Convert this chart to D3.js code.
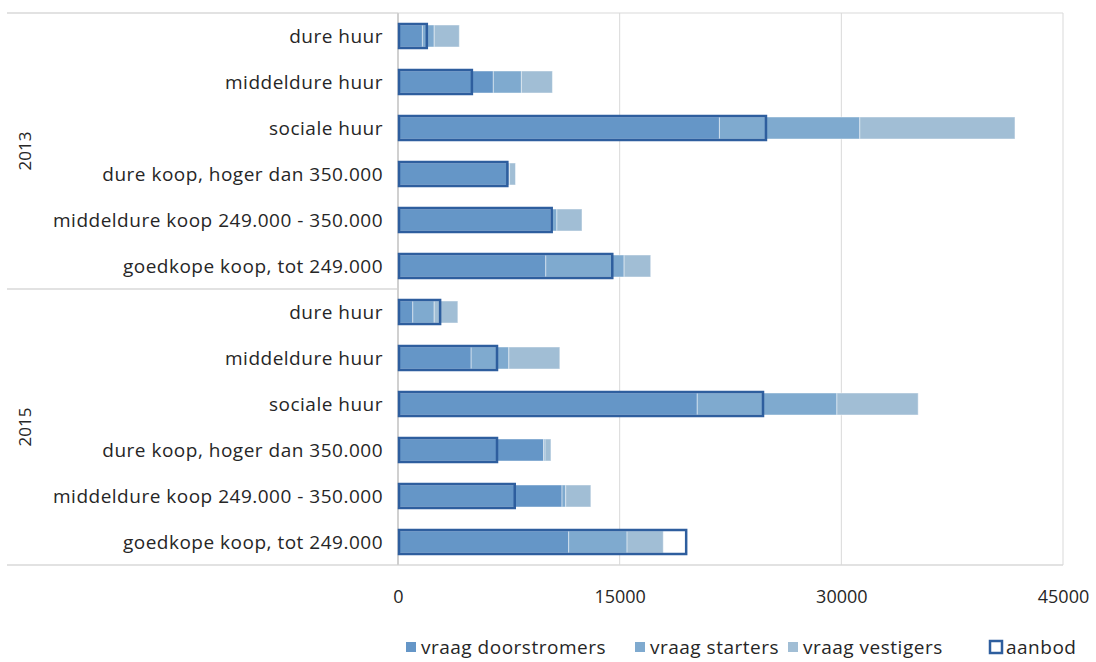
<!DOCTYPE html>
<html>
<head>
<meta charset="utf-8">
<script src="https://cdn.jsdelivr.net/npm/d3@7"></script>
<style>
  body { margin: 0; background: #fff; }
  text { font-family: 'Open Sans', sans-serif; fill: #262626; }
</style>
</head>
<body>
<svg></svg>
<script>
const WIDTH = 1096;
const HEIGHT = 662;
const PLOT = { left: 398, right: 1063, top: 13, bottom: 565 };

const years = ['2013', '2015'];
const categories = [
  'dure huur',
  'middeldure huur',
  'sociale huur',
  'dure koop, hoger dan 350.000',
  'middeldure koop 249.000 - 350.000',
  'goedkope koop, tot 249.000'
];
// per year: 6 categories 2013, then 6 categories 2015
const doorstromers = [1650, 6450, 21750, 7450, 10350, 10000, 1000, 4950, 20250, 9850, 11100, 11550];
const starters = [800, 1900, 9500, 100, 400, 5300, 1450, 2550, 9450, 100, 250, 3950];
const vestigers = [1700, 2100, 10500, 400, 1700, 1800, 1600, 3450, 5500, 400, 1700, 2450];
const aanbod = [1950, 5000, 24900, 7400, 10400, 14500, 2850, 6700, 24700, 6700, 7900, 19500];
const xTicks = [0, 15000, 30000, 45000];

const seriesNames = ['vraag doorstromers', 'vraag starters', 'vraag vestigers'];
const COLORS = ['#6596c7', '#7faacf', '#a1bed5'];
const AANBOD_COLOR = '#2e5e9e';

const rows = [];
years.forEach((year, yi) => {
  categories.forEach((cat, ci) => {
    const i = yi * categories.length + ci;
    rows.push({
      key: year + '|' + cat,
      year: year,
      cat: cat,
      d: doorstromers[i],
      s: starters[i],
      v: vestigers[i],
      a: aanbod[i]
    });
  });
});

const svg = d3.select('svg').attr('width', WIDTH).attr('height', HEIGHT);

const x = d3.scaleLinear().domain([0, 45000]).range([PLOT.left, PLOT.right]);
const y = d3
  .scaleBand()
  .domain(rows.map((r) => r.key))
  .range([PLOT.top, PLOT.bottom]);

// gridlines + plot border
svg
  .append('g')
  .selectAll('line')
  .data(xTicks.slice(1))
  .enter()
  .append('line')
  .attr('x1', (d) => x(d))
  .attr('x2', (d) => x(d))
  .attr('y1', PLOT.top)
  .attr('y2', PLOT.bottom)
  .attr('stroke', '#d9d9d9')
  .attr('stroke-width', 1);

svg
  .append('line')
  .attr('x1', PLOT.left).attr('x2', PLOT.right)
  .attr('y1', PLOT.top).attr('y2', PLOT.top)
  .attr('stroke', '#d9d9d9');
svg
  .append('line')
  .attr('x1', PLOT.left).attr('x2', PLOT.right)
  .attr('y1', PLOT.bottom).attr('y2', PLOT.bottom)
  .attr('stroke', '#d9d9d9').attr('stroke-width', 1.5);

// category axis: group separators
const groupLines = [PLOT.top, y(rows[categories.length].key), PLOT.bottom];
svg
  .append('g')
  .selectAll('line')
  .data(groupLines)
  .enter()
  .append('line')
  .attr('x1', 7)
  .attr('x2', PLOT.left)
  .attr('y1', (d) => d)
  .attr('y2', (d) => d)
  .attr('stroke', '#d9d9d9')
  .attr('stroke-width', 1.5);

svg
  .append('line')
  .attr('x1', PLOT.left).attr('x2', PLOT.left)
  .attr('y1', PLOT.top).attr('y2', PLOT.bottom)
  .attr('stroke', '#d0d0d0').attr('stroke-width', 2);

// stacked demand bars
const stack = d3.stack().keys(['d', 's', 'v']);
const stacked = stack(rows);
const barH = 22;

svg
  .append('g')
  .selectAll('g')
  .data(stacked)
  .enter()
  .append('g')
  .attr('fill', (d, i) => COLORS[i])
  .selectAll('rect')
  .data((d) => d)
  .enter()
  .append('rect')
  .attr('x', (d) => x(d[0]))
  .attr('y', (d) => y(d.data.key) + y.bandwidth() / 2 - barH / 2)
  .attr('width', (d) => x(d[1]) - x(d[0]))
  .attr('height', barH)
  .attr('stroke', 'rgba(255,255,255,0.45)')
  .attr('stroke-width', 1);

// aanbod outline bars
const boxH = 24;
svg
  .append('g')
  .selectAll('rect')
  .data(rows)
  .enter()
  .append('rect')
  .attr('x', x(0) + 1)
  .attr('y', (d) => y(d.key) + y.bandwidth() / 2 - boxH / 2)
  .attr('width', (d) => x(d.a) - x(0) - 1)
  .attr('height', boxH)
  .attr('fill', 'none')
  .attr('stroke', AANBOD_COLOR)
  .attr('stroke-width', 2.5);

// category labels
svg
  .append('g')
  .selectAll('text')
  .data(rows)
  .enter()
  .append('text')
  .attr('x', 383)
  .attr('y', (d) => y(d.key) + y.bandwidth() / 2)
  .attr('dy', '0.35em')
  .attr('text-anchor', 'end')
  .attr('font-size', 19)
  .attr('letter-spacing', 0.5)
  .text((d) => d.cat);

// year labels
svg
  .append('g')
  .selectAll('text')
  .data(years)
  .enter()
  .append('text')
  .attr('transform', (d, i) => {
    const cy = (groupLines[i] + groupLines[i + 1]) / 2;
    return `translate(25, ${cy}) rotate(-90)`;
  })
  .attr('dy', '0.35em')
  .attr('text-anchor', 'middle')
  .attr('font-size', 17)
  .text((d) => d);

// value axis
const xAxis = d3.axisBottom(x).tickValues(xTicks).tickSize(0).tickFormat(d3.format('d'));
const xAxisGroup = svg
  .append('g')
  .attr('transform', `translate(0, 587)`)
  .call(xAxis);
xAxisGroup.select('.domain').remove();
xAxisGroup
  .selectAll('text')
  .attr('font-size', 18)
  .attr('fill', '#262626')
  .attr('font-family', 'Open Sans, sans-serif');

// legend
const legendItems = [
  { name: seriesNames[0], x: 406, color: COLORS[0], outline: false },
  { name: seriesNames[1], x: 635, color: COLORS[1], outline: false },
  { name: seriesNames[2], x: 788, color: COLORS[2], outline: false },
  { name: 'aanbod', x: 989, color: AANBOD_COLOR, outline: true }
];
const legend = svg.append('g');
const li = legend
  .selectAll('g')
  .data(legendItems)
  .enter()
  .append('g')
  .attr('transform', (d) => `translate(${d.x}, 647)`);
li.append('rect')
  .attr('x', (d) => (d.outline ? 1 : 0))
  .attr('y', (d) => (d.outline ? -6 : -5))
  .attr('width', (d) => (d.outline ? 12 : 10))
  .attr('height', (d) => (d.outline ? 12 : 10))
  .attr('fill', (d) => (d.outline ? 'none' : d.color))
  .attr('stroke', (d) => (d.outline ? d.color : 'none'))
  .attr('stroke-width', 2.5);
li.append('text')
  .attr('x', (d) => (d.outline ? 17 : 15))
  .attr('dy', '0.35em')
  .attr('font-size', 19)
  .attr('letter-spacing', 0.5)
  .text((d) => d.name);
</script>
</body>
</html>
